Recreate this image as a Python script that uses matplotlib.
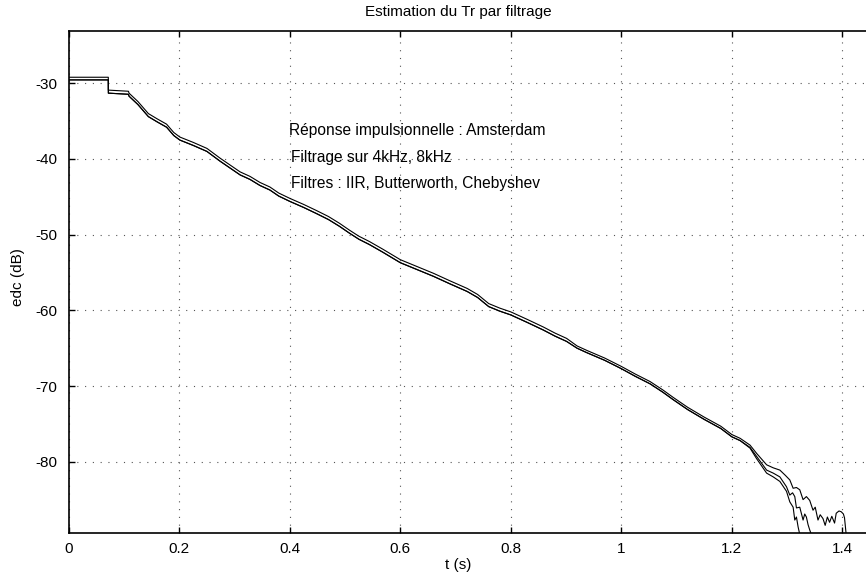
import matplotlib
matplotlib.use("Agg")
import matplotlib.pyplot as plt
from matplotlib.ticker import FuncFormatter

plt.rcParams['font.family'] = ['Liberation Sans', 'DejaVu Sans']

# ---- data ----
t_main = [0.0, 0.0715, 0.0716, 0.108, 0.109, 0.125, 0.144, 0.16, 0.177, 0.19,
          0.201, 0.225, 0.25, 0.274, 0.29, 0.31, 0.328, 0.346, 0.364, 0.38,
          0.4, 0.425, 0.448, 0.47, 0.49, 0.508, 0.525, 0.544, 0.568, 0.6,
          0.63, 0.66, 0.69, 0.721, 0.74, 0.76, 0.78, 0.8, 0.83, 0.859,
          0.88, 0.901, 0.92, 0.938, 0.97, 1.0, 1.025, 1.052, 1.075, 1.094,
          1.12, 1.15, 1.18, 1.2, 1.215, 1.233]

edc1_main = [-29.2, -29.2, -30.9, -31.05, -31.3, -32.4, -34.0, -34.7, -35.4, -36.5,
             -37.1, -37.8, -38.6, -39.9, -40.7, -41.7, -42.3, -43.1, -43.7, -44.5,
             -45.2, -46.0, -46.8, -47.6, -48.5, -49.4, -50.2, -50.9, -51.9, -53.3,
             -54.2, -55.1, -56.1, -57.1, -57.9, -59.1, -59.7, -60.2, -61.2, -62.2,
             -63.0, -63.7, -64.7, -65.3, -66.3, -67.4, -68.4, -69.4, -70.5, -71.5,
             -72.8, -74.1, -75.3, -76.4, -76.9, -77.8]

edc2_main = [-29.55, -29.55, -31.3, -31.45, -31.7, -32.8, -34.4, -35.1, -35.8, -36.9,
             -37.5, -38.2, -39.0, -40.3, -41.1, -42.1, -42.7, -43.5, -44.1, -44.9,
             -45.6, -46.4, -47.2, -48.0, -48.9, -49.8, -50.6, -51.3, -52.3, -53.7,
             -54.6, -55.5, -56.5, -57.5, -58.3, -59.5, -60.1, -60.6, -61.6, -62.6,
             -63.4, -64.1, -65.0, -65.6, -66.6, -67.7, -68.7, -69.7, -70.8, -71.8,
             -73.1, -74.4, -75.6, -76.7, -77.2, -78.1]

edc3_main = [-29.55, -29.55, -31.3, -31.45, -31.7, -32.8, -34.4, -35.1, -35.8, -36.9,
             -37.5, -38.2, -39.0, -40.3, -41.1, -42.1, -42.7, -43.5, -44.1, -44.9,
             -45.6, -46.4, -47.2, -48.0, -48.9, -49.8, -50.6, -51.3, -52.3, -53.7,
             -54.6, -55.5, -56.5, -57.5, -58.3, -59.5, -60.1, -60.6, -61.6, -62.6,
             -63.4, -64.1, -65.0, -65.6, -66.6, -67.7, -68.7, -69.7, -70.8, -71.8,
             -73.1, -74.4, -75.6, -76.7, -77.2, -78.2]

t1_tail = [1.245, 1.263, 1.275, 1.287, 1.297, 1.305, 1.311, 1.317, 1.323, 1.329,
           1.335, 1.341, 1.347, 1.351, 1.356, 1.360, 1.365, 1.369, 1.373, 1.377,
           1.381, 1.386, 1.389, 1.394, 1.398, 1.402, 1.404, 1.407]
edc1_tail = [-78.9, -80.4, -80.8, -81.1, -81.8, -82.4, -83.5, -83.4, -83.7, -85.0,
             -84.6, -85.1, -86.4, -86.0, -87.7, -87.0, -87.5, -88.4, -87.3, -88.0,
             -87.2, -88.1, -86.8, -86.5, -86.6, -86.9, -87.4, -89.6]

t2_tail = [1.245, 1.263, 1.275, 1.287, 1.299, 1.305, 1.310, 1.314, 1.317, 1.323,
           1.329, 1.332, 1.335, 1.338, 1.341, 1.344]
edc2_tail = [-79.3, -81.1, -81.5, -82.0, -83.3, -84.4, -84.1, -84.6, -86.1, -86.0,
             -87.7, -86.9, -87.3, -88.3, -89.0, -89.6]

t3_tail = [1.245, 1.263, 1.275, 1.287, 1.299, 1.305, 1.311, 1.314, 1.317, 1.320, 1.323]
edc3_tail = [-79.6, -81.5, -82.0, -82.6, -83.9, -85.3, -86.0, -87.7, -87.3, -88.6, -89.6]

x_ticks = [0, 0.2, 0.4, 0.6, 0.8, 1.0, 1.2, 1.4]
y_ticks = [-80, -70, -60, -50, -40, -30]

title = "Estimation du Tr par filtrage"
notes = ["Réponse impulsionnelle : Amsterdam",
         "Filtrage sur 4kHz, 8kHz",
         "Filtres : IIR, Butterworth, Chebyshev"]

# ---- figure ----
W, H = 866, 573
fig = plt.figure(figsize=(W / 100, H / 100), dpi=100)
left_px, right_px, top_px, bottom_px = 68.8, 866, 31, 533.3
ax_w_px = right_px - left_px
ax_h_px = bottom_px - top_px
ax = fig.add_axes([left_px / W, 1 - bottom_px / H, ax_w_px / W, ax_h_px / H])

for tm, ym, tt, yt in [(t_main, edc1_main, t1_tail, edc1_tail),
                       (t_main, edc2_main, t2_tail, edc2_tail),
                       (t_main, edc3_main, t3_tail, edc3_tail)]:
    ax.plot(list(tm) + list(tt), list(ym) + list(yt), color='black', lw=0.8)

px_per_unit = 552.5
ax.set_xlim(0, ax_w_px / px_per_unit)
ax.set_ylim(-89.45, -23.09)

ax.set_xticks(x_ticks)
ax.set_yticks(y_ticks)
ax.xaxis.set_major_formatter(FuncFormatter(lambda v, p: f"{v:g}"))
ax.yaxis.set_major_formatter(FuncFormatter(lambda v, p: f"{v:g}"))
ax.tick_params(direction='in', length=4, width=1, top=True, right=False,
               labelsize=11, colors='black')
ax.tick_params(axis='y', pad=8)
ax.tick_params(axis='x', pad=6)

ax.grid(True, color='#555555', linestyle=(0, (1, 6)), linewidth=0.8)
for s in ['left', 'bottom', 'top']:
    ax.spines[s].set_linewidth(1.2)
ax.spines['right'].set_visible(False)

ax.set_xlabel("t (s)", fontsize=11)
ax.set_ylabel("edc (dB)", fontsize=11)
ax.xaxis.set_label_coords((458 - left_px) / ax_w_px, -(558 - bottom_px) / ax_h_px)
ax.yaxis.set_label_coords(-(left_px - 25) / ax_w_px, (bottom_px - 277) / ax_h_px)

fig.text(458 / W, 1 - 12 / H, title, ha='center', va='center', fontsize=11)

note_y = [-36.2, -39.75, -43.2]
note_x = [0.3985, 0.402, 0.402]
for x, y, s in zip(note_x, note_y, notes):
    ax.text(x, y, s, fontsize=11.2, ha='left', va='center')

fig.savefig("out.png", dpi=100)
